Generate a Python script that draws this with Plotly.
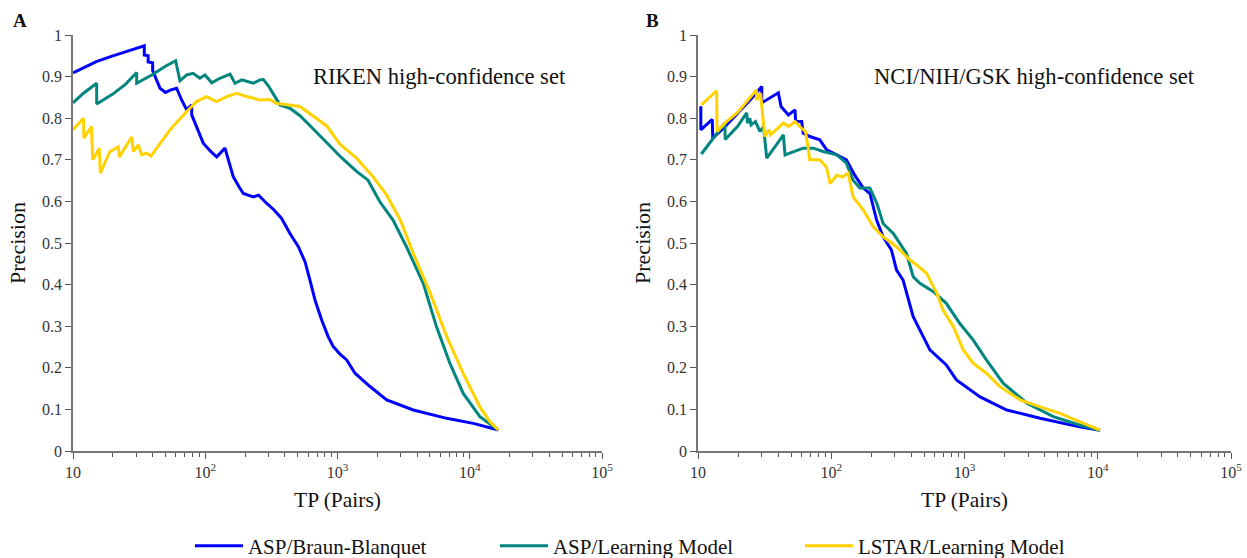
import plotly.graph_objects as go

# ---------------- Panel A: RIKEN high-confidence set ----------------
a_blue_x = [10, 12, 15, 20, 25, 30, 34.6, 34.6, 37, 37, 40, 40, 45.5, 50, 55, 60.8, 66, 72.4, 79, 79, 88, 96.6, 110, 122, 141, 152, 163, 180, 194, 231, 253, 292, 330, 378, 437, 506, 568, 619, 676, 759, 850, 929, 1050, 1174, 1356, 1761, 2355, 3742, 6695, 10640, 16440]
a_blue_y = [0.909, 0.922, 0.936, 0.950, 0.960, 0.968, 0.974, 0.952, 0.950, 0.935, 0.933, 0.915, 0.872, 0.862, 0.868, 0.872, 0.845, 0.820, 0.832, 0.808, 0.770, 0.740, 0.720, 0.707, 0.728, 0.690, 0.659, 0.635, 0.619, 0.611, 0.615, 0.595, 0.580, 0.559, 0.523, 0.491, 0.455, 0.411, 0.363, 0.315, 0.275, 0.251, 0.232, 0.219, 0.187, 0.155, 0.123, 0.0986, 0.0785, 0.0665, 0.0505]

a_teal_x = [10, 12, 15.1, 15.1, 20, 25, 30.3, 30.3, 40, 50, 59.7, 64.4, 72.4, 81, 91, 99.6, 112, 129, 154, 168, 189, 231, 259, 275, 300, 325, 367, 437, 520, 656, 826, 1073, 1393, 1702, 2090, 2630, 3320, 4450, 5600, 7070, 8900, 11930, 16440]
a_teal_y = [0.837, 0.860, 0.884, 0.834, 0.858, 0.882, 0.910, 0.884, 0.905, 0.925, 0.938, 0.890, 0.904, 0.908, 0.896, 0.904, 0.885, 0.896, 0.906, 0.884, 0.892, 0.884, 0.892, 0.893, 0.878, 0.860, 0.832, 0.824, 0.806, 0.774, 0.742, 0.705, 0.672, 0.651, 0.599, 0.555, 0.491, 0.403, 0.299, 0.211, 0.139, 0.0825, 0.0505]

a_yellow_x = [10, 12, 12.1, 13.8, 14.1, 15.8, 16.1, 19.0, 22.0, 22.4, 27.8, 28.6, 31.2, 33.0, 36, 39, 42.9, 54.1, 72.4, 86, 102, 122, 145, 173, 206, 259, 309, 345, 520, 826, 1040, 1393, 1860, 2355, 2990, 3740, 5030, 6700, 8900, 11930, 14200, 16440]
a_yellow_y = [0.772, 0.800, 0.752, 0.780, 0.700, 0.728, 0.668, 0.720, 0.731, 0.707, 0.755, 0.720, 0.736, 0.712, 0.716, 0.709, 0.728, 0.772, 0.816, 0.840, 0.852, 0.840, 0.852, 0.860, 0.852, 0.844, 0.845, 0.836, 0.828, 0.782, 0.738, 0.704, 0.659, 0.615, 0.555, 0.475, 0.379, 0.275, 0.187, 0.106, 0.0705, 0.0505]

# ---------------- Panel B: NCI/NIH/GSK high-confidence set ----------------
b_blue_x = [10.5, 10.5, 12.8, 12.9, 16, 20, 25, 30.1, 30.1, 40.1, 42, 47.7, 53.5, 54, 60, 61.6, 69, 82, 92.4, 110, 130, 150, 174, 195, 219, 245, 283, 309, 346, 412, 550, 730, 870, 1310, 2075, 3690, 7300, 10400]
b_blue_y = [0.829, 0.772, 0.797, 0.752, 0.780, 0.812, 0.846, 0.876, 0.837, 0.861, 0.828, 0.808, 0.820, 0.792, 0.792, 0.764, 0.756, 0.748, 0.724, 0.712, 0.700, 0.663, 0.632, 0.619, 0.555, 0.515, 0.483, 0.435, 0.411, 0.323, 0.243, 0.207, 0.171, 0.130, 0.0986, 0.0786, 0.058, 0.050]

b_teal_x = [10.6, 13, 15.9, 16, 20, 23.2, 23.5, 24.5, 25, 27, 29.2, 31, 32.8, 38, 43.7, 45, 52, 61.6, 73.3, 87, 110, 130, 146, 164, 195, 220, 245, 292, 367, 412, 463, 585, 730, 920, 1160, 1460, 1950, 2940, 4640, 7300, 10400]
b_teal_y = [0.714, 0.752, 0.789, 0.749, 0.782, 0.813, 0.788, 0.800, 0.784, 0.792, 0.768, 0.780, 0.704, 0.732, 0.760, 0.712, 0.720, 0.728, 0.728, 0.720, 0.712, 0.692, 0.651, 0.632, 0.632, 0.595, 0.547, 0.523, 0.475, 0.419, 0.403, 0.383, 0.355, 0.307, 0.267, 0.219, 0.163, 0.115, 0.0825, 0.0625, 0.050]

b_yellow_x = [10.6, 13.8, 13.9, 15.9, 20, 27.5, 27.6, 29.5, 31.7, 34, 35, 43.7, 48, 53.5, 58, 64, 67, 69, 82, 92, 98, 110, 122, 134, 146, 174, 207, 245, 309, 390, 438, 520, 620, 690, 825, 980, 1160, 1460, 1840, 2615, 3690, 5220, 7300, 10400]
b_yellow_y = [0.832, 0.866, 0.768, 0.788, 0.815, 0.868, 0.844, 0.860, 0.756, 0.772, 0.760, 0.788, 0.780, 0.792, 0.780, 0.768, 0.731, 0.700, 0.700, 0.683, 0.643, 0.663, 0.659, 0.668, 0.611, 0.579, 0.539, 0.515, 0.491, 0.459, 0.447, 0.427, 0.379, 0.339, 0.299, 0.243, 0.211, 0.187, 0.155, 0.123, 0.106, 0.0905, 0.0705, 0.050]

series_names = ["ASP/Braun-Blanquet", "ASP/Learning Model", "LSTAR/Learning Model"]
series_colors = ["#0000FF", "#00857F", "#FFD200"]

x_tickvals = [10, 100, 1000, 10000, 100000]
x_ticktext = ["10", "10<sup>2</sup>", "10<sup>3</sup>", "10<sup>4</sup>", "10<sup>5</sup>"]
x_minor = [m * 10 ** d for d in range(1, 5) for m in range(2, 10)]
y_tickvals = [0, 0.1, 0.2, 0.3, 0.4, 0.5, 0.6, 0.7, 0.8, 0.9, 1]
y_ticktext = ["0", "0.1", "0.2", "0.3", "0.4", "0.5", "0.6", "0.7", "0.8", "0.9", "1"]

panel_titles = ["RIKEN high-confidence set", "NCI/NIH/GSK high-confidence set"]
panel_letters = ["A", "B"]

FONT = "Liberation Serif"

fig = go.Figure()

panels = [
    ((a_blue_x, a_blue_y), (a_teal_x, a_teal_y), (a_yellow_x, a_yellow_y)),
    ((b_blue_x, b_blue_y), (b_teal_x, b_teal_y), (b_yellow_x, b_yellow_y)),
]
for p, data in enumerate(panels):
    xa = "x" if p == 0 else "x2"
    ya = "y" if p == 0 else "y2"
    for s, (xs, ys) in enumerate(data):
        fig.add_trace(go.Scatter(
            x=xs, y=ys, mode="lines", name=series_names[s],
            line=dict(color=series_colors[s], width=3),
            xaxis=xa, yaxis=ya, showlegend=(p == 0),
        ))

total_w = 1231 - 73
domA = [0, (602 - 73) / total_w]
domB = [(698 - 73) / total_w, 1]

common_x = dict(
    type="log", range=[1, 5], tickvals=x_tickvals, ticktext=x_ticktext,
    ticks="outside", ticklen=6, tickwidth=1, tickcolor="#555",
    showline=True, linecolor="#777", linewidth=1.5, showgrid=False, zeroline=False,
    minor=dict(tickvals=x_minor, ticks="outside", ticklen=4, tickcolor="#555", showgrid=False),
    tickfont=dict(family=FONT, size=16, color="#333"),
    title=dict(text="TP (Pairs)", font=dict(family=FONT, size=21.5, color="#111"), standoff=12),
)
common_y = dict(
    range=[0, 1], tickvals=y_tickvals, ticktext=y_ticktext,
    ticks="outside", ticklen=6, tickwidth=1, tickcolor="#555",
    showline=True, linecolor="#777", linewidth=1.5, showgrid=False, zeroline=False,
    tickfont=dict(family=FONT, size=16, color="#333"),
    title=dict(text="Precision", font=dict(family=FONT, size=22, color="#111"), standoff=10),
)

fig.update_layout(
    width=1247, height=558,
    margin=dict(l=73, r=16, t=35, b=107, autoexpand=False),
    paper_bgcolor="white", plot_bgcolor="white",
    xaxis=dict(domain=domA, anchor="y", **common_x),
    yaxis=dict(domain=[0, 1], anchor="x", **common_y),
    xaxis2=dict(domain=domB, anchor="y2", **common_x),
    yaxis2=dict(domain=[0, 1], anchor="x2", **common_y),
    showlegend=True,
    legend=dict(
        orientation="h", x=0.101, xanchor="left", xref="paper",
        y=(451 - 546) / 416, yanchor="middle", yref="paper",
        font=dict(family=FONT, size=21, color="#111"),
        entrywidth=242, entrywidthmode="pixels", itemwidth=48,
        bgcolor="rgba(0,0,0,0)",
    ),
    font=dict(family=FONT),
)

fig.add_annotation(text=panel_titles[0], x=(439 - 73) / total_w, y=(451 - 77) / 416,
                   xref="paper", yref="paper", showarrow=False, xanchor="center", yanchor="middle",
                   font=dict(family=FONT, size=22.6, color="#111"))
fig.add_annotation(text=panel_titles[1], x=(1034 - 73) / total_w, y=(451 - 77) / 416,
                   xref="paper", yref="paper", showarrow=False, xanchor="center", yanchor="middle",
                   font=dict(family=FONT, size=22.6, color="#111"))
fig.add_annotation(text="<b>" + panel_letters[0] + "</b>", x=(20 - 73) / total_w, y=(451 - 20) / 416,
                   xref="paper", yref="paper", showarrow=False, xanchor="center", yanchor="middle",
                   font=dict(family=FONT, size=19, color="#111"))
fig.add_annotation(text="<b>" + panel_letters[1] + "</b>", x=(652 - 73) / total_w, y=(451 - 20) / 416,
                   xref="paper", yref="paper", showarrow=False, xanchor="center", yanchor="middle",
                   font=dict(family=FONT, size=19, color="#111"))

fig.write_html("out.html")
